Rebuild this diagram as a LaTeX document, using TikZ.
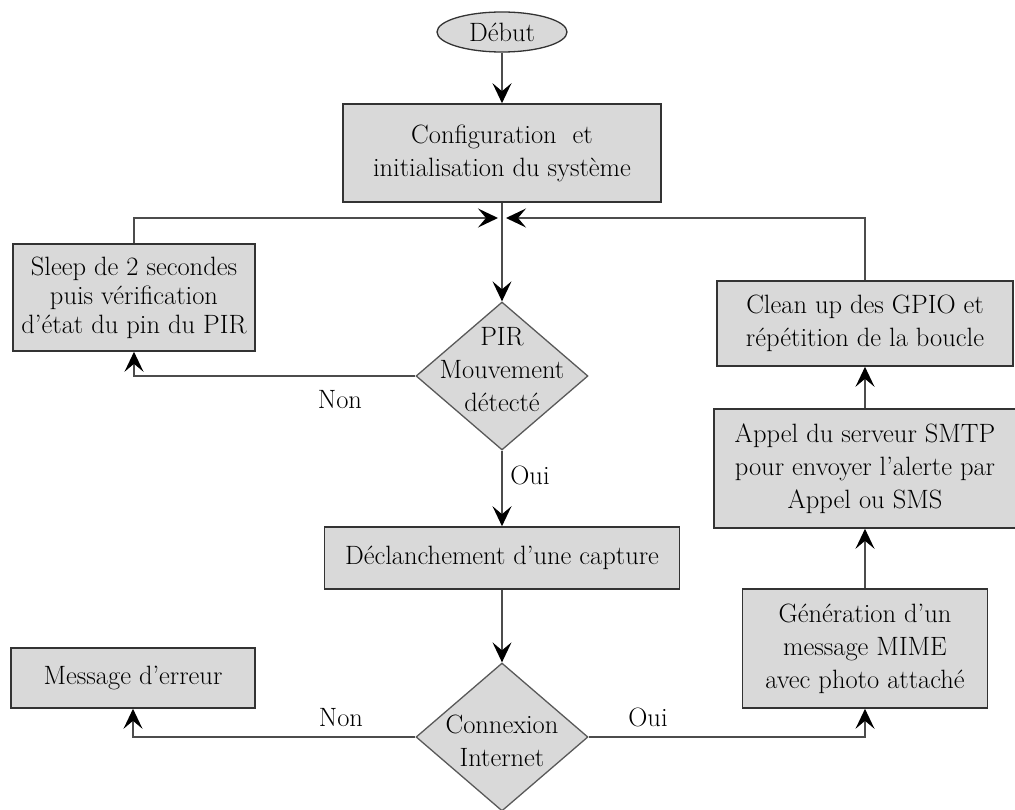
\documentclass[tikz,border=0pt]{standalone}
\usepackage{fontspec}
\usetikzlibrary{shapes.geometric,arrows.meta}
\begin{document}
\begin{tikzpicture}[x=1pt,y=-1pt,
  every node/.style={font=\addfontfeatures{FakeBold=0.6}\fontsize{26.5}{33}\selectfont, text=black},
  box/.style={draw=black!80, line width=1.6pt, fill=black!15, align=center, inner sep=0pt},
  decision/.style={diamond, draw=black!65, line width=1.3pt, fill=black!15, inner sep=0pt,
                   minimum width=172pt, minimum height=148pt},
  flow/.style={draw=black!70, line width=1.5pt,
               -{Stealth[length=20pt,width=19pt,inset=8pt,color=black]}},
  lbl/.style={inner sep=0pt, align=center}
]
\useasboundingbox (0,0) rectangle (1015,810);

% start terminal
\node[ellipse, draw=black!80, line width=1.3pt, fill=black!15, minimum width=130pt,
      minimum height=40pt, inner sep=0pt] (start) at (502,32) {Début};

% main column
\node[box, minimum width=318pt, minimum height=98pt] (config) at (502,153)
  {Configuration\ \ et\\initialisation du système};
\node[decision] (pir) at (502,376) {};
\node[lbl] (pirtext) at (502,370) {PIR\\Mouvement\\détecté};
\node[box, minimum width=355pt, minimum height=62pt] (capture) at (502,558)
  {Déclanchement d’une capture};
\node[decision] (cx) at (502,737) {};
\node[lbl] (cxtext) at (502,741) {Connexion\\Internet};

% left column
\node[box, minimum width=242pt, minimum height=107pt,
      font=\addfontfeatures{FakeBold=0.6}\fontsize{26.5}{29}\selectfont] (sleep) at (134,297.5)
  {Sleep de 2 secondes\\puis vérification\\d’état du pin du PIR};
\node[box, minimum width=244pt, minimum height=60pt] (err) at (133,678)
  {Message d’erreur};

% right column
\node[box, minimum width=296pt, minimum height=85pt] (clean) at (865,323.5)
  {Clean up des GPIO et\\répétition de la boucle};
\node[box, minimum width=302pt, minimum height=119pt] (smtp) at (865,468.5)
  {Appel du serveur SMTP\\pour envoyer l’alerte par\\Appel ou SMS};
\node[box, minimum width=245pt, minimum height=119pt] (mime) at (865,648.5)
  {Génération d’un\\message MIME\\avec photo attaché};

% branch labels
\node[lbl] (non1) at (340,400) {Non};
\node[lbl] (oui1) at (530,475) {Oui};
\node[lbl] (non2) at (341,718) {Non};
\node[lbl] (oui2) at (648,717) {Oui};

% loop junction points
\coordinate (jl) at (498,218);
\coordinate (jr) at (506,218);

% connectors
\draw[flow] (start.south) -- (config.north);
\draw[flow] (config.south) -- (pir.north);
\draw[flow] (sleep.north) |- (jl);
\draw[flow] (clean.north) |- (jr);
\draw[flow] (pir.west) -| (sleep.south);
\draw[flow] (pir.south) -- (capture.north);
\draw[flow] (capture.south) -- (cx.north);
\draw[flow] (cx.west) -| (err.south);
\draw[flow] (cx.east) -| (mime.south);
\draw[flow] (mime.north) -- (smtp.south);
\draw[flow] (smtp.north) -- (clean.south);
\end{tikzpicture}
\end{document}
